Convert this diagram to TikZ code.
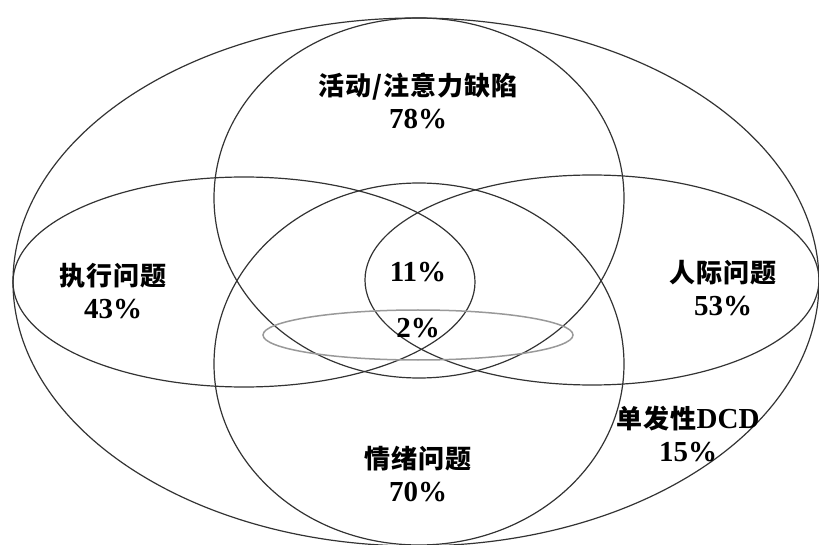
\documentclass[tikz,border=0pt]{standalone}
\usepackage{fontspec}
\setmainfont{Liberation Serif}
\newfontfamily\cjk{Noto Sans CJK SC}[LetterSpace=4]
\newcommand\zh[1]{{\cjk\fontsize{26}{33}\selectfont #1}}

\tikzset{
  ring/.style={draw=black!80, line width=1.2pt},
  label/.style={align=center, font=\fontsize{29}{33}\selectfont\bfseries, inner sep=0pt}
}

\begin{document}
\begin{tikzpicture}[x=1pt,y=1pt]
    \useasboundingbox (0,0) rectangle (819,544);
    % the five sets
    \draw[ring] (416,262) ellipse (403 and 264);
    \draw[ring] (419,346) ellipse (205 and 180);
    \draw[ring] (419,180) ellipse (205 and 181);
    \draw[ring] (244,262) ellipse (231 and 105);
    \draw[ring] (592,264) ellipse (227 and 105);
    \draw[draw=black!40, line width=1.5pt] (418,209) ellipse (155 and 25);
    % labels
    \node[label] (attn) at (418,443) {\zh{活动/注意力缺陷}\\78\%};
    \node[label] (exec) at (113,253) {\zh{执行问题}\\43\%};
    \node[label] (soc) at (723,256) {\zh{人际问题}\\53\%};
    \node[label] (core) at (418,272) {11\%};
    \node[label] (all) at (418,216) {2\%};
    \node[label] (dcd) at (688,110) {\zh{单发性}DCD\\15\%};
    \node[label] (emo) at (418,70) {\zh{情绪问题}\\70\%};
\end{tikzpicture}
\end{document}
